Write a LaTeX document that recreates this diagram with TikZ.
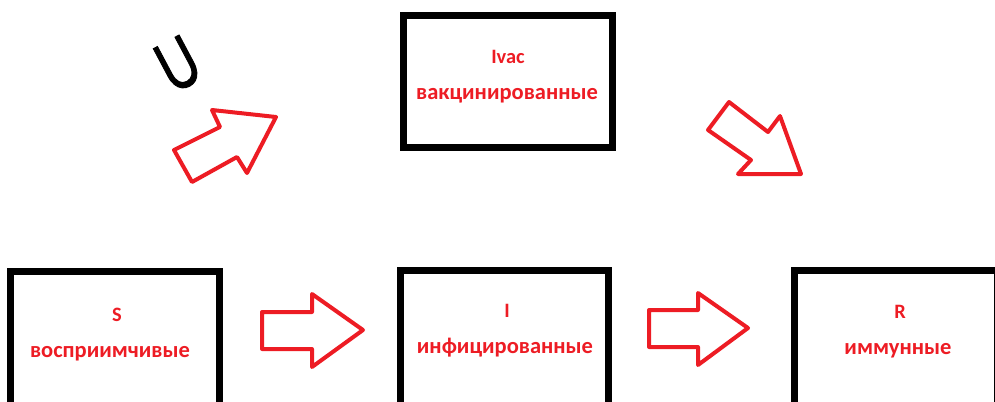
\documentclass[tikz,border=0pt]{standalone}
\usepackage{fontspec}
\setmainfont{Carlito}
\newfontfamily\ufont[FakeBold=1.5]{Liberation Sans}
\definecolor{pred}{RGB}{237,28,36}
\begin{document}
\begin{tikzpicture}[x=1bp,y=-1bp,
  box/.style={draw=black,line width=7bp,rectangle,inner sep=0pt},
  blk/.style={draw=pred,line width=4bp,line join=round},
  top/.style={text=pred,font=\bfseries\fontsize{20.5}{21}\selectfont,inner sep=0pt,anchor=base},
  sub/.style={text=pred,font=\bfseries\fontsize{22.6}{23}\selectfont,inner sep=0pt,anchor=base}]
\useasboundingbox (0,0) rectangle (995,401);
\clip (0,0) rectangle (995,401);
% boxes
\node[box,minimum width=209bp,minimum height=132bp] (vac) at (508,81.5) {};
\node[box,minimum width=209bp,minimum height=170bp] (s) at (115,356.5) {};
\node[box,minimum width=208bp,minimum height=170bp] (i) at (504.5,355.5) {};
\node[box,minimum width=203bp,minimum height=170bp] (r) at (896,355.5) {};
% labels
\node[top] (vact) at (508,63) {Ivac};
\node[sub] (vacs) at (507,99) {вакцинированные};
\node[top] (st) at (117,321.5) {S};
\node[sub] (ss) at (110,357) {восприимчивые};
\node[top] (it) at (507,317) {I};
\node[sub] (is) at (505,353) {инфицированные};
\node[top] (rt) at (900,318) {R};
\node[sub] (rs) at (898,354) {иммунные};
% U
\node[inner sep=0pt,font=\ufont\fontsize{72}{72}\selectfont,rotate=28] (u) at (178,64) {\scalebox{0.72}[1]{U}};
% block arrows
\draw[blk] (174,150) -- (220,127) -- (212,110) -- (276,117) -- (247,173) -- (237,157) -- (192,182) -- cycle;
\draw[blk] (708,130) -- (729,102) -- (768,132) -- (780,116) -- (801,174) -- (738,174) -- (751,160) -- cycle;
\draw[blk] (262,312) -- (312,312) -- (312,294) -- (363,330) -- (312,367) -- (312,349) -- (262,349) -- cycle;
\draw[blk] (649,310) -- (698,310) -- (698,293) -- (748,328) -- (698,365) -- (698,347) -- (649,347) -- cycle;
\end{tikzpicture}
\end{document}
